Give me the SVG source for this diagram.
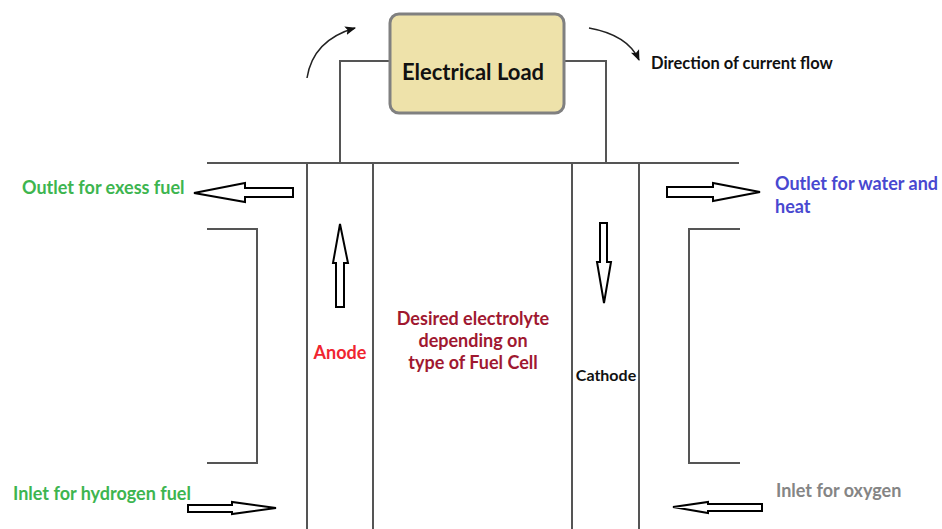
<svg xmlns="http://www.w3.org/2000/svg" width="942" height="529" viewBox="0 0 942 529">
<defs>
<style>
.ln{fill:none;stroke:#555;stroke-width:2}
.ar{fill:#fff;stroke:#000;stroke-width:2;stroke-linejoin:miter}
.cv{fill:none;stroke:#222;stroke-width:1.5}
text{font-family:Lato,"Open Sans","Liberation Sans",sans-serif;font-weight:bold}
.lb{font-size:18px}
</style>
<marker id="ah" viewBox="0 0 10 10" refX="9" refY="5" markerWidth="11" markerHeight="11" markerUnits="userSpaceOnUse" orient="auto">
<path d="M0,1 L10,5 L0,9 L2,5 Z" fill="#111"/>
</marker>
</defs>
<rect width="942" height="529" fill="#fff"/>
<g id="connectors">
<path class="ln" d="M207,163 H739"/>
<path class="ln" d="M307,163 V529 M373,163 V529 M572,163 V529 M639,163 V529"/>
<path class="ln" d="M389,61 H340 V163 M564,61 H606 V163"/>
<path class="ln" d="M207,229 H257 V463 H207"/>
<path class="ln" d="M740,229 H689 V463 H740"/>
<path class="cv" d="M307,78 Q313,40 355,28" marker-end="url(#ah)"/>
<path class="cv" d="M589,28 Q628,35 639,60" marker-end="url(#ah)"/>
</g>
<g id="load">
<rect x="390" y="14" width="174" height="99" rx="9" fill="#EEE2AA" stroke="#808080" stroke-width="3"/>
<text x="473" y="80" font-size="22" text-anchor="middle" fill="#111">Electrical Load</text>
</g>
<g id="arrow-excess">
<path class="ar" d="M293,188 H245 V183 L194,193 L245,202 V197 H293 Z"/>
</g>
<g id="arrow-water">
<path class="ar" d="M667,187 H713 V183 L760,192 L713,201 V197 H667 Z"/>
</g>
<g id="arrow-hydrogen">
<path class="ar" d="M188,505 H232 V502 L276,508 L232,514 V512 H188 Z"/>
</g>
<g id="arrow-oxygen">
<path class="ar" d="M762,504 H708 V502 L673,507 L708,513 V511 H762 Z"/>
</g>
<g id="arrow-anode">
<path class="ar" d="M336,307 V263 H333 L340,224 L348,263 H344 V307 Z"/>
</g>
<g id="arrow-cathode">
<path class="ar" d="M600,223 V262 H597 L604,303 L611,262 H607 V223 Z"/>
</g>
<g id="labels">
<text class="lb" x="22" y="194" fill="#3DB54F">Outlet for exess fuel</text>
<text class="lb" x="775" y="190" fill="#4848D0">Outlet for water and</text>
<text class="lb" x="775" y="213" fill="#4848D0">heat</text>
<text class="lb" x="13" y="500" fill="#3DB54F">Inlet for hydrogen fuel</text>
<text class="lb" x="776" y="497" fill="#858585">Inlet for oxygen</text>
<text class="lb" x="340" y="359" text-anchor="middle" fill="#F02530">Anode</text>
<text x="606" y="381" font-size="16" text-anchor="middle" fill="#111">Cathode</text>
<text class="lb" x="473" y="325" text-anchor="middle" fill="#A01830">Desired electrolyte</text>
<text class="lb" x="473" y="347" text-anchor="middle" fill="#A01830">depending on</text>
<text class="lb" x="473" y="369" text-anchor="middle" fill="#A01830">type of Fuel Cell</text>
<text x="651" y="69" font-size="16.5" fill="#111">Direction of current flow</text>
</g>
</svg>
